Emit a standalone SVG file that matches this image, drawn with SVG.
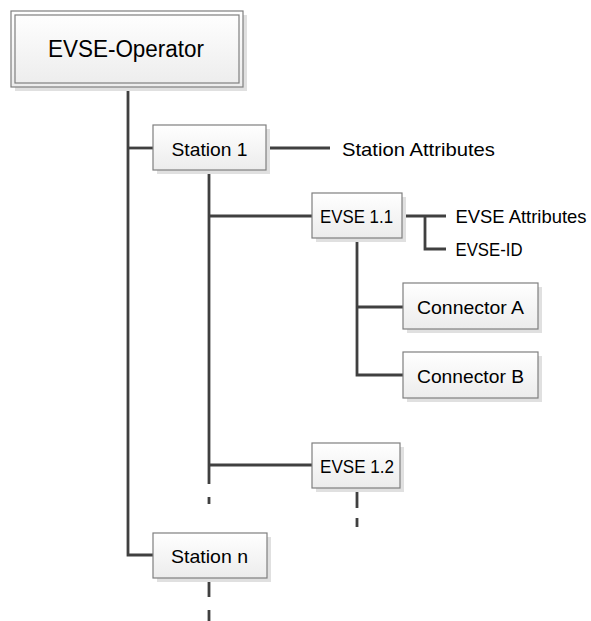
<svg xmlns="http://www.w3.org/2000/svg" width="591" height="621" viewBox="0 0 591 621">
<defs>
<linearGradient id="g" x1="0" y1="0" x2="0" y2="1">
<stop offset="0" stop-color="#ffffff"/>
<stop offset="1" stop-color="#ececec"/>
</linearGradient>
</defs>
<style>
.box{fill:url(#g);stroke:#7f7f7f;stroke-width:1.2}
.sh{fill:#e0e0e0}
.t{font-family:"Liberation Sans",Arial,sans-serif;font-size:19px;fill:#000}
.c{text-anchor:middle}
.ln{stroke:#404040;stroke-width:2.8;fill:none;stroke-linecap:butt}
</style>
<rect width="591" height="621" fill="#fff"/>
<g id="connectors">
<path class="ln" d="M128,87 V555 H153"/>
<path class="ln" d="M128,148 H153"/>
<path class="ln" d="M266,148 H330"/>
<path class="ln" d="M209,170 V484 M209,497 V504"/>
<path class="ln" d="M209,216 H312"/>
<path class="ln" d="M209,465 H312"/>
<path class="ln" d="M402,216 H446 M425,216 V249 H446"/>
<path class="ln" d="M357,238 V375 H403 M357,307 H403"/>
<path class="ln" d="M357,488 V508 M357,518 V527"/>
<path class="ln" d="M209,578 V597 M209,610 V621"/>
</g>
<g id="evse-operator">
<rect class="sh" x="15" y="15" width="232" height="76"/>
<rect class="box" x="11" y="11" width="232" height="76"/>
<rect x="15" y="15" width="224" height="68" fill="none" stroke="#7f7f7f" stroke-width="1.2"/>
<text class="t" x="48" y="57" style="font-size:23px" textLength="156" lengthAdjust="spacingAndGlyphs">EVSE-Operator</text>
</g>
<g id="station-1">
<rect class="sh" x="157" y="129" width="113" height="45"/>
<rect class="box" x="153" y="125" width="113" height="45"/>
<text class="t" x="171.5" y="155.5" textLength="76" lengthAdjust="spacingAndGlyphs">Station 1</text>
</g>
<g id="station-attributes">
<text class="t" x="342" y="155.5" textLength="153" lengthAdjust="spacingAndGlyphs">Station Attributes</text>
</g>
<g id="evse-1-1">
<rect class="sh" x="316" y="197" width="90" height="45"/>
<rect class="box" x="312" y="193" width="90" height="45"/>
<text class="t" x="320" y="223" textLength="73" lengthAdjust="spacingAndGlyphs">EVSE 1.1</text>
</g>
<g id="evse-attributes">
<text class="t" x="455.5" y="223" textLength="131" lengthAdjust="spacingAndGlyphs">EVSE Attributes</text>
</g>
<g id="evse-id">
<text class="t" x="455.5" y="256" textLength="67" lengthAdjust="spacingAndGlyphs">EVSE-ID</text>
</g>
<g id="connector-a">
<rect class="sh" x="407" y="287" width="135" height="46"/>
<rect class="box" x="403" y="283" width="135" height="46"/>
<text class="t" x="417" y="313.5" textLength="107" lengthAdjust="spacingAndGlyphs">Connector A</text>
</g>
<g id="connector-b">
<rect class="sh" x="407" y="356" width="135" height="46"/>
<rect class="box" x="403" y="352" width="135" height="46"/>
<text class="t" x="417" y="382.5" textLength="107" lengthAdjust="spacingAndGlyphs">Connector B</text>
</g>
<g id="evse-1-2">
<rect class="sh" x="316" y="447" width="88" height="45"/>
<rect class="box" x="312" y="443" width="88" height="45"/>
<text class="t" x="320" y="473" textLength="74" lengthAdjust="spacingAndGlyphs">EVSE 1.2</text>
</g>
<g id="station-n">
<rect class="sh" x="157" y="537" width="114" height="45"/>
<rect class="box" x="153" y="533" width="114" height="45"/>
<text class="t" x="171" y="563" textLength="77" lengthAdjust="spacingAndGlyphs">Station n</text>
</g>
</svg>
